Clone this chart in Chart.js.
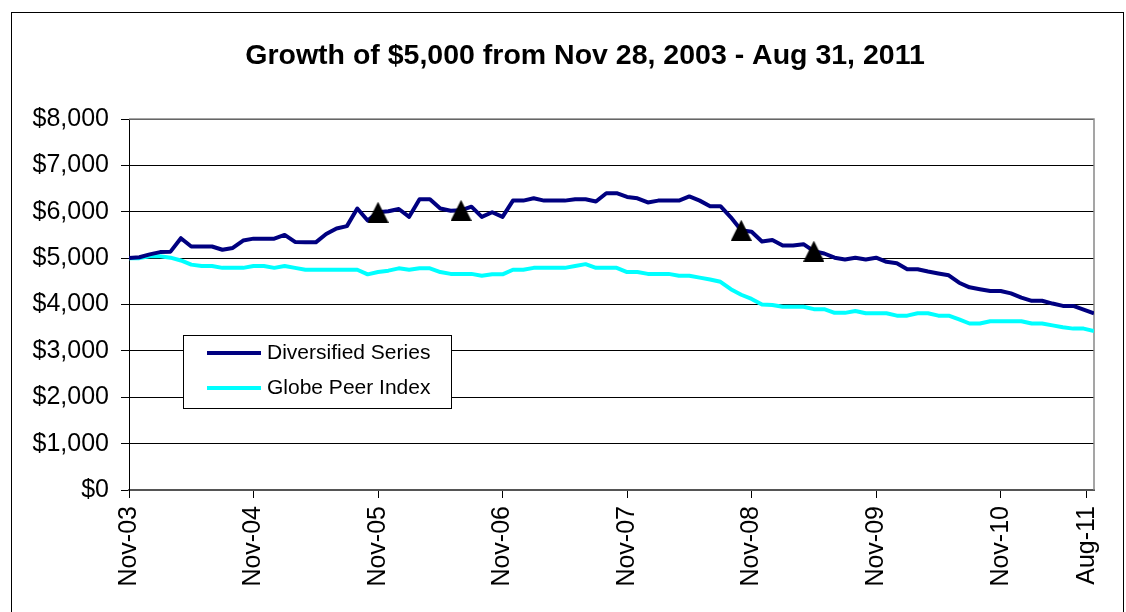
<!DOCTYPE html>
<html lang="en">

<head>
    <meta charset="UTF-8">
    <title>Growth of $5,000</title>
    <script src="https://cdn.jsdelivr.net/npm/chart.js"></script>
    <style>
        body { margin: 0; background: #fff; }
        #caixa { position: relative; width: 1126px; height: 612px; }
    </style>
</head>

<body>
    <div id="caixa">
        <canvas id="myChartCanvas"></canvas>
    </div>

<script>
    // monthly values, index 0 = Nov-03 ... index 93 = Aug-11
    const diversified = [
        5000, 5020, 5080, 5130, 5140, 5430, 5250, 5250, 5250, 5180,
        5220, 5380, 5420, 5420, 5420, 5500, 5350, 5340, 5340, 5520,
        5640, 5690, 6070, 5810, 5990, 6010, 6060, 5890, 6270, 6270,
        6070, 6020, 6030, 6110, 5890, 5990, 5890, 6240, 6240, 6290,
        6240, 6240, 6240, 6270, 6270, 6220, 6400, 6400, 6320, 6290,
        6200, 6240, 6240, 6240, 6330, 6240, 6120, 6120, 5880, 5600,
        5570, 5360, 5390, 5270, 5270, 5300, 5150, 5100, 5010, 4970,
        5010, 4970, 5010, 4920, 4890, 4760, 4760, 4710, 4670, 4630,
        4470, 4370, 4330, 4290, 4290, 4240, 4150, 4080, 4080, 4020,
        3970, 3970, 3890, 3810
    ];
    const globePeer = [
        5000, 5000, 5040, 5040, 5010, 4950, 4860, 4830, 4830, 4790,
        4790, 4790, 4830, 4830, 4790, 4830, 4790, 4750, 4750, 4750,
        4750, 4750, 4750, 4650, 4700, 4730, 4780, 4750, 4780, 4780,
        4700, 4660, 4660, 4660, 4620, 4650, 4650, 4750, 4750, 4790,
        4790, 4790, 4790, 4830, 4870, 4790, 4790, 4790, 4700, 4700,
        4660, 4660, 4660, 4620, 4620, 4580, 4540, 4490, 4330, 4210,
        4120, 4000, 3990, 3950, 3950, 3950, 3900, 3900, 3820, 3820,
        3860, 3810, 3810, 3810, 3760, 3760, 3810, 3810, 3760, 3760,
        3680, 3590, 3590, 3640, 3640, 3640, 3640, 3590, 3590, 3550,
        3510, 3480, 3480, 3430
    ];
    // months that carry a black triangle on the Diversified line
    const markerMonths = [24, 32, 59, 66];

    const tickMonths = [0, 12, 24, 36, 48, 60, 72, 84, 92.3];
    const tickLabels = ['Nov-03', 'Nov-04', 'Nov-05', 'Nov-06', 'Nov-07', 'Nov-08', 'Nov-09', 'Nov-10', 'Aug-11'];
    const seriesNames = ['Diversified Series', 'Globe Peer Index'];
    const titulo = 'Growth of $5,000 from Nov 28, 2003 - Aug 31, 2011';

    const fonte = '"Liberation Sans", Arial, sans-serif';

    // triangle marker (centred on its box, like Excel)
    const tri = document.createElement('canvas');
    tri.width = 21;
    tri.height = 21;
    const tctx = tri.getContext('2d');
    tctx.fillStyle = '#000';
    tctx.beginPath();
    tctx.moveTo(10.5, 0);
    tctx.lineTo(21, 21);
    tctx.lineTo(0, 21);
    tctx.closePath();
    tctx.fill();

    function pontos(serie) {
        return serie.map((v, i) => ({ x: i, y: v }));
    }

    // frame, title, plot border and the legend box inside the plot
    const moldura = {
        id: 'moldura',
        beforeDraw(chart) {
            const ctx = chart.ctx;
            ctx.save();
            ctx.strokeStyle = '#000';
            ctx.lineWidth = 1;
            ctx.strokeRect(11.5, 12.5, 1112, 700);
            ctx.fillStyle = '#000';
            ctx.font = 'bold 28.5px ' + fonte;
            ctx.textAlign = 'center';
            ctx.textBaseline = 'alphabetic';
            ctx.fillText(titulo, 585, 64);
            ctx.restore();
        },
        beforeDatasetsDraw(chart) {
            const ca = chart.chartArea;
            const ctx = chart.ctx;
            ctx.save();
            ctx.strokeStyle = '#888';
            ctx.lineWidth = 1.5;
            ctx.beginPath();
            ctx.moveTo(ca.left, ca.top);
            ctx.lineTo(ca.right, ca.top);
            ctx.lineTo(ca.right, ca.bottom);
            ctx.stroke();
            ctx.restore();
        },
        afterDatasetsDraw(chart) {
            const ca = chart.chartArea;
            const ctx = chart.ctx;
            const x0 = ca.left + 54, y0 = ca.top + 216;
            ctx.save();
            ctx.fillStyle = '#fff';
            ctx.fillRect(x0, y0, 268, 73);
            ctx.strokeStyle = '#000';
            ctx.lineWidth = 1;
            ctx.strokeRect(x0 + 0.5, y0 + 0.5, 268, 73);
            ctx.font = '21px ' + fonte;
            ctx.textAlign = 'left';
            ctx.textBaseline = 'middle';
            [0, 1].forEach(function (k) {
                const ds = chart.data.datasets[k];
                const yy = y0 + 18 + k * 35;
                ctx.strokeStyle = ds.borderColor;
                ctx.lineWidth = 4;
                ctx.beginPath();
                ctx.moveTo(x0 + 24, yy);
                ctx.lineTo(x0 + 78, yy);
                ctx.stroke();
                ctx.fillStyle = '#000';
                ctx.fillText(ds.label, x0 + 84, yy);
            });
            ctx.restore();
        }
    };

    const dados = {
        datasets: [{
            label: seriesNames[0],
            data: pontos(diversified),
            borderColor: '#000080',
            borderWidth: 4,
            pointRadius: 0,
            tension: 0,
            borderJoinStyle: 'round',
            order: 1
        }, {
            label: seriesNames[1],
            data: pontos(globePeer),
            borderColor: '#00FFFF',
            borderWidth: 4,
            pointRadius: 0,
            tension: 0,
            borderJoinStyle: 'round',
            order: 2
        }, {
            label: 'markers',
            data: markerMonths.map(i => ({ x: i, y: diversified[i] })),
            showLine: false,
            pointStyle: tri,
            pointRadius: 10,
            order: 0
        }]
    };

    const config = {
        type: 'line',
        data: dados,
        plugins: [moldura],
        options: {
            responsive: true,
            maintainAspectRatio: false,
            animation: false,
            layout: {
                padding: { left: 11, right: 32, top: 119, bottom: 0 }
            },
            plugins: {
                legend: { display: false },
                title: { display: false },
                tooltip: { enabled: false }
            },
            scales: {
                x: {
                    type: 'linear',
                    min: 0,
                    max: diversified.length - 1,
                    afterBuildTicks(scale) {
                        scale.ticks = tickMonths.map(v => ({ value: v }));
                    },
                    afterFit(scale) {
                        scale.height = 122;
                    },
                    ticks: {
                        autoSkip: false,
                        minRotation: 90,
                        maxRotation: 90,
                        padding: 8,
                        color: '#000',
                        font: { family: fonte, size: 25 },
                        callback: (v, i) => tickLabels[i]
                    },
                    grid: { drawOnChartArea: false, tickLength: 8, color: '#000' },
                    border: { color: '#555', width: 2 }
                },
                y: {
                    min: 0,
                    max: 8000,
                    afterFit(scale) {
                        scale.width = 118;
                    },
                    ticks: {
                        stepSize: 1000,
                        padding: 12,
                        color: '#000',
                        font: { family: fonte, size: 25 },
                        callback: v => '$' + v.toLocaleString('en-US')
                    },
                    grid: { color: '#000', lineWidth: 1, tickLength: 8 },
                    border: { color: '#000', width: 1 }
                }
            }
        }
    };

    let myChart = new Chart(document.getElementById('myChartCanvas'), config);
</script>
</body>

</html>
